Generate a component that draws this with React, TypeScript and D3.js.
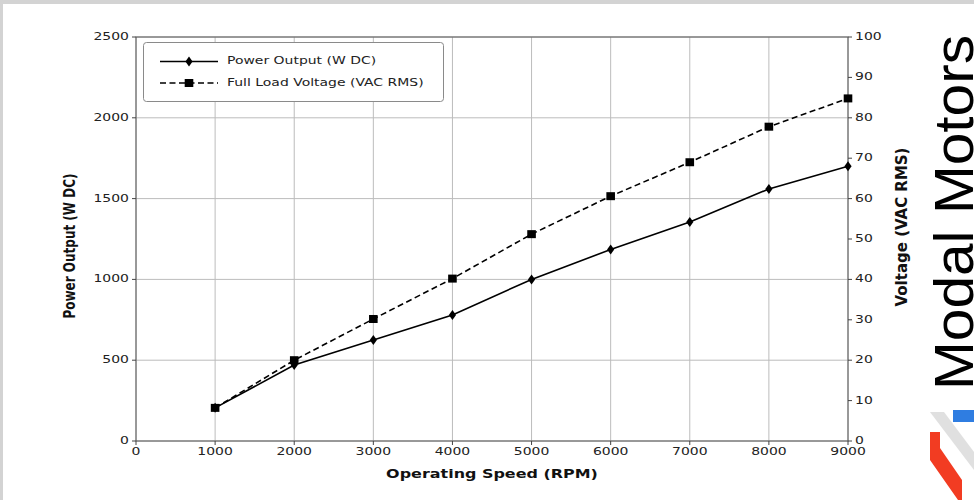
import React from "react";
import * as d3 from "d3";

const speeds = [1000, 2000, 3000, 4000, 5000, 6000, 7000, 8000, 9000];
const power = [205, 470, 625, 780, 1000, 1185, 1355, 1560, 1700];
const voltage = [8.2, 20, 30.2, 40.2, 51.2, 60.6, 69, 77.8, 84.8];
const xTicks = [0, 1000, 2000, 3000, 4000, 5000, 6000, 7000, 8000, 9000];
const leftTicks = [0, 500, 1000, 1500, 2000, 2500];
const rightTicks = [0, 10, 20, 30, 40, 50, 60, 70, 80, 90, 100];
const legendLabels = ["Power Output (W DC)", "Full Load Voltage (VAC RMS)"];

const W = 974;
const H = 500;
const L = 136, R = 848, T = 37, B = 441;
const SX = 1.33;
const FONT = "DejaVu Sans, sans-serif";

function HText(props: { x: number; y: number; anchor?: string; size: number; weight?: string; children: any; fill?: string }) {
  const { x, y, anchor = "start", size, weight = "normal", children, fill = "#222" } = props;
  return (
    <text transform={`translate(${x},${y}) scale(${SX},1)`} textAnchor={anchor} fontSize={size} fontWeight={weight} fontFamily={FONT} fill={fill} dominantBaseline="middle">
      {children}
    </text>
  );
}

export default function App() {
  const x = d3.scaleLinear().domain([0, 9000]).range([L, R]);
  const yL = d3.scaleLinear().domain([0, 2500]).range([B, T]);
  const yR = d3.scaleLinear().domain([0, 100]).range([B, T]);

  const pLine = d3.line<number>().x((_, i) => x(speeds[i])).y((d) => yL(d));
  const vLine = d3.line<number>().x((_, i) => x(speeds[i])).y((d) => yR(d));

  const diamond = (cx: number, cy: number) => `M${cx},${cy - 5}L${cx + 3.6},${cy}L${cx},${cy + 5}L${cx - 3.6},${cy}Z`;

  return (
    <div style={{ position: "absolute", left: 0, top: 0 }}>
      <svg width={W} height={H} style={{ display: "block" }}>
        <rect x={0} y={0} width={W} height={H} fill="#fff" />
        <rect x={0} y={0} width={W} height={4} fill="#d3d3d3" />
        <rect x={0} y={0} width={3} height={H} fill="#d3d3d3" />

        {/* grid */}
        {xTicks.map((t) => (
          <line key={"gx" + t} x1={x(t)} x2={x(t)} y1={T} y2={B} stroke="#bcbcbc" strokeWidth={1} />
        ))}
        {leftTicks.map((t) => (
          <line key={"gy" + t} x1={L} x2={R} y1={yL(t)} y2={yL(t)} stroke="#bcbcbc" strokeWidth={1} />
        ))}

        {/* spines */}
        <rect x={L} y={T} width={R - L} height={B - T} fill="none" stroke="#555" strokeWidth={1} />

        {/* ticks */}
        {xTicks.map((t) => (
          <g key={"xt" + t}>
            <line x1={x(t)} x2={x(t)} y1={B} y2={B + 4} stroke="#444" />
            <HText x={x(t)} y={B + 11} anchor="middle" size={10.5}>{t}</HText>
          </g>
        ))}
        {leftTicks.map((t) => (
          <g key={"lt" + t}>
            <line x1={L - 4} x2={L} y1={yL(t)} y2={yL(t)} stroke="#444" />
            <HText x={L - 7} y={yL(t)} anchor="end" size={10.5}>{t}</HText>
          </g>
        ))}
        {rightTicks.map((t) => (
          <g key={"rt" + t}>
            <line x1={R} x2={R + 4} y1={yR(t)} y2={yR(t)} stroke="#444" />
            <HText x={R + 7} y={yR(t)} anchor="start" size={10.5}>{t}</HText>
          </g>
        ))}

        {/* axis labels */}
        <HText x={(L + R) / 2} y={475} anchor="middle" size={12} weight="bold" fill="#111">Operating Speed (RPM)</HText>
        <text transform={`translate(75,246) rotate(-90) scale(1,1.25)`} textAnchor="middle" fontSize={12} fontWeight="bold" fontFamily={FONT} fill="#111">Power Output (W DC)</text>
        <text transform={`translate(907,227) rotate(-90) scale(1,1.05)`} textAnchor="middle" fontSize={15} fontWeight="bold" fontFamily={FONT} fill="#111">Voltage (VAC RMS)</text>

        {/* series */}
        <path d={pLine(power) || ""} fill="none" stroke="#000" strokeWidth={1.6} />
        <path d={vLine(voltage) || ""} fill="none" stroke="#000" strokeWidth={1.6} strokeDasharray="6,3.5" />
        {power.map((p, i) => (
          <path key={"pm" + i} d={diamond(x(speeds[i]), yL(p))} fill="#000" />
        ))}
        {voltage.map((v, i) => (
          <rect key={"vm" + i} x={x(speeds[i]) - 4.3} y={yR(v) - 4} width={8.6} height={8} fill="#000" />
        ))}

        {/* legend */}
        <rect x={143.5} y={42.5} width={300} height={59} rx={3} fill="#fff" stroke="#8a8a8a" strokeWidth={1} />
        <line x1={160} x2={218} y1={61.5} y2={61.5} stroke="#000" strokeWidth={1.6} />
        <path d={diamond(189, 61.5)} fill="#000" />
        <line x1={160} x2={218} y1={83} y2={83} stroke="#000" strokeWidth={1.6} strokeDasharray="6,3.5" />
        <rect x={189 - 4.3} y={83 - 4} width={8.6} height={8} fill="#000" />
        <HText x={227} y={61.5} size={10.5}>{legendLabels[0]}</HText>
        <HText x={227} y={83} size={10.5}>{legendLabels[1]}</HText>

        {/* logo */}
        <text transform="translate(973,390) rotate(-90)" fontSize={56} fontFamily="Liberation Sans, Arial, sans-serif" fill="#000" textLength={355} lengthAdjust="spacingAndGlyphs">Modal Motors</text>
        <polygon points="930,412 944,412 974,452 974,470" fill="#e0e0e0" />
        <rect x={953} y={410} width={21} height={12} fill="#2f7de1" />
        <polygon points="930,432 940,432 940,448 962,480 962,500 958,500 930,460" fill="#f23c22" />
      </svg>
    </div>
  );
}
